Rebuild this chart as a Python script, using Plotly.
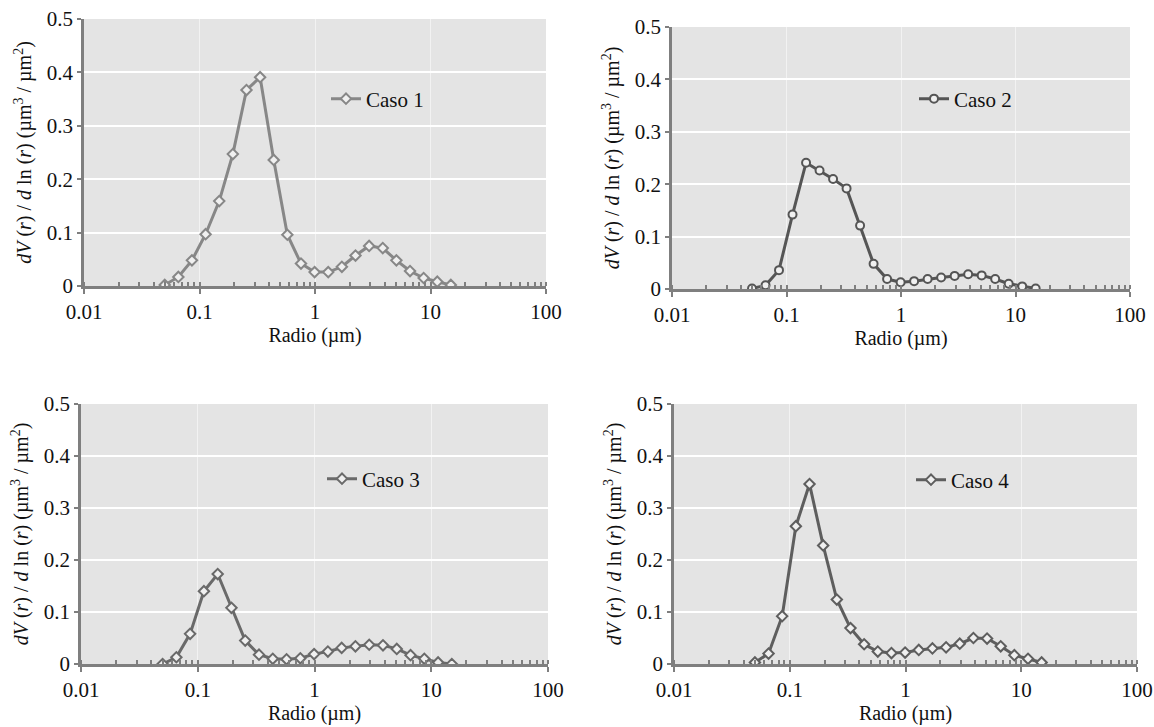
import plotly.graph_objects as go

radius = [0.05, 0.0656, 0.086, 0.1129, 0.1482, 0.1944, 0.2551, 0.3347, 0.4392, 0.5763,
          0.7562, 0.9923, 1.302, 1.7085, 2.2418, 2.9417, 3.8601, 5.0652, 6.6465, 8.7215,
          11.444, 15.0]

caso1 = [0.002, 0.017, 0.048, 0.097, 0.159, 0.247, 0.367, 0.391, 0.236, 0.096, 0.042,
         0.026, 0.026, 0.036, 0.057, 0.075, 0.071, 0.048, 0.028, 0.015, 0.008, 0.002]
caso2 = [0.001, 0.007, 0.036, 0.142, 0.241, 0.226, 0.210, 0.192, 0.121, 0.048, 0.019,
         0.013, 0.015, 0.019, 0.022, 0.025, 0.028, 0.026, 0.019, 0.010, 0.005, 0.001]
caso3 = [0.000, 0.013, 0.058, 0.140, 0.173, 0.108, 0.045, 0.018, 0.010, 0.009, 0.011,
         0.019, 0.024, 0.031, 0.034, 0.037, 0.036, 0.029, 0.017, 0.010, 0.003, 0.000]
caso4 = [0.003, 0.020, 0.092, 0.265, 0.346, 0.228, 0.124, 0.069, 0.038, 0.024, 0.021,
         0.022, 0.027, 0.030, 0.032, 0.039, 0.050, 0.049, 0.034, 0.017, 0.010, 0.003]

names = ["Caso 1", "Caso 2", "Caso 3", "Caso 4"]
series = [caso1, caso2, caso3, caso4]
colors = ["#878787", "#555555", "#6a6a6a", "#5e5e5e"]
symbols = ["diamond", "circle", "diamond", "diamond"]

y_ticks = [0, 0.1, 0.2, 0.3, 0.4, 0.5]
y_labels = ["0", "0.1", "0.2", "0.3", "0.4", "0.5"]
x_ticks = [0.01, 0.1, 1, 10, 100]
x_labels = ["0.01", "0.1", "1", "10", "100"]

W, H = 1154, 727
# plot areas in pixels: (left, right, top, bottom)
boxes = [(84, 546, 19, 286), (672, 1130, 27, 289), (81, 548, 404, 664), (674, 1137, 404, 664)]
legend_pos = [(326, 99), (914, 99), (322, 479), (911, 480)]

FONT = "Liberation Serif"
fig = go.Figure()
ytitle = ("<i>dV</i> (<i>r</i>) / <i>d</i> ln (<i>r</i>) (µm<sup>3</sup> / µm<sup>2</sup>)")

for i in range(4):
    k = "" if i == 0 else str(i + 1)
    leg = "legend" if i == 0 else "legend" + str(i + 1)
    fig.add_trace(go.Scatter(
        x=radius, y=series[i], name=names[i], mode="lines+markers",
        xaxis="x" + k, yaxis="y" + k, legend=leg,
        line=dict(color=colors[i], width=3),
        marker=dict(symbol=symbols[i], size=8, color="#f0f0f0",
                    line=dict(width=2, color=colors[i])),
    ))
    l, r, t, b = boxes[i]
    fig.layout["xaxis" + k] = dict(
        type="log", range=[-2, 2], domain=[l / W, r / W], anchor="y" + k, automargin=False,
        tickvals=x_ticks, ticktext=x_labels, ticks="outside", ticklen=5, tickwidth=2,
        tickcolor="#7f7f7f", showline=True, linecolor="#7f7f7f", linewidth=2.5,
        showgrid=True, gridcolor="#f2f2f2", gridwidth=1, zeroline=False,
        minor=dict(ticks="inside", ticklen=4, tickwidth=2, tickcolor="#7f7f7f",
                   dtick="D1", showgrid=False),
        tickfont=dict(family=FONT, size=21, color="#111"),
        title=dict(text="Radio (µm)", font=dict(family=FONT, size=20, color="#111"), standoff=4),
    )
    fig.layout["yaxis" + k] = dict(
        range=[0, 0.5], domain=[1 - b / H, 1 - t / H], anchor="x" + k, automargin=False,
        tickvals=y_ticks, ticktext=y_labels, ticks="outside", ticklen=4, tickwidth=2,
        tickcolor="#7f7f7f", showline=True, linecolor="#7f7f7f", linewidth=2.5,
        showgrid=True, gridcolor="#ffffff", gridwidth=2, zeroline=False,
        tickfont=dict(family=FONT, size=21, color="#111"),
        title=dict(text=ytitle, font=dict(family=FONT, size=20, color="#111"), standoff=10),
    )
    lx, ly = legend_pos[i]
    fig.layout[leg] = dict(
        x=lx / W, y=1 - ly / H, xanchor="left", yanchor="middle",
        bgcolor="rgba(0,0,0,0)", borderwidth=0,
        font=dict(family=FONT, size=21, color="#111"),
    )

fig.update_layout(
    width=W, height=H, autosize=False,
    margin=dict(l=0, r=0, t=0, b=0),
    paper_bgcolor="white", plot_bgcolor="#e4e4e4",
    showlegend=True,
)

fig.write_html("out.html")
